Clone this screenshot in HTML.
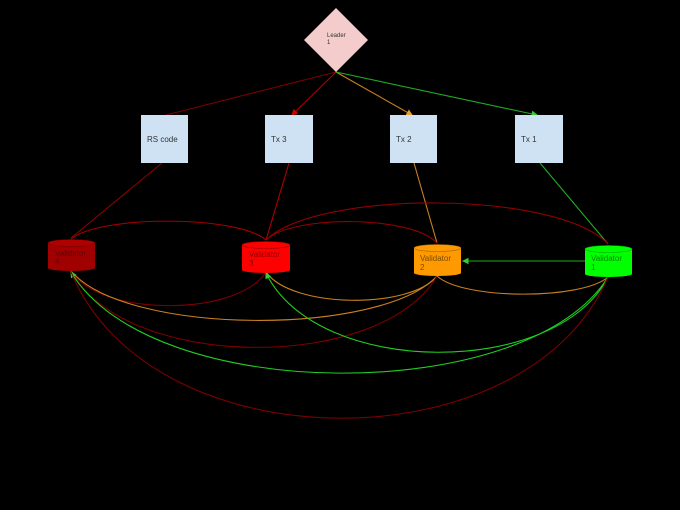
<!DOCTYPE html>
<html><head><style>
html,body{margin:0;padding:0;background:#000;width:680px;height:510px;overflow:hidden}
svg{display:block}
text{font-family:"Liberation Sans",sans-serif}
</style></head><body>
<svg width="680" height="510" viewBox="0 0 680 510" xmlns="http://www.w3.org/2000/svg">
<rect width="680" height="510" fill="#000"/>
<defs>
<marker id="ar" markerWidth="6" markerHeight="6" refX="5" refY="3" orient="auto"><path d="M0,0 L6,3 L0,6z" fill="#c00"/></marker>
<marker id="ao" markerWidth="6" markerHeight="6" refX="5" refY="3" orient="auto"><path d="M0,0 L6,3 L0,6z" fill="#e8a030"/></marker>
<marker id="ag" markerWidth="6" markerHeight="6" refX="5" refY="3" orient="auto"><path d="M0,0 L6,3 L0,6z" fill="#3c3"/></marker>
</defs>
<g fill="none" stroke-width="1.1">
<line x1="336" y1="72" x2="166" y2="115" stroke="#7a0000"/>
<line x1="336" y1="72" x2="292" y2="115" stroke="#b00000" marker-end="url(#ar)"/>
<line x1="336" y1="72" x2="412" y2="115" stroke="#c88020" marker-end="url(#ao)"/>
<line x1="336" y1="72" x2="537" y2="115" stroke="#2a2" marker-end="url(#ag)"/>
<line x1="162" y1="163" x2="71" y2="238" stroke="#8a0000"/>
<line x1="289" y1="163" x2="266" y2="240" stroke="#b00000"/>
<line x1="414" y1="163" x2="437" y2="243" stroke="#c88020"/>
<line x1="540" y1="163" x2="608" y2="244" stroke="#2a2"/>
<line x1="585" y1="261" x2="463" y2="261" stroke="#2a2" marker-end="url(#ag)"/>
<path d="M71 239 C100 215 237 215 266 240" stroke="#a00000"/>
<path d="M266 240 C317 190 557 190 608 244" stroke="#900000"/>
<path d="M266 240 C292 215 411 215 437 243" stroke="#900000"/>
<path d="M266 272 C237 317 100 317 71 271" stroke="#7a0000"/>
<path d="M437 276 C411 309 292 309 266 272" stroke="#c88020"/>
<path d="M437 276 C382 336 126 336 71 271" stroke="#c88020"/>
<path d="M437 276 C382 372 126 372 71 271" stroke="#7a0000"/>
<path d="M437 276 C463 300 582 300 608 277" stroke="#c88020"/>
<path d="M608 277 C557 378 317 378 266 273" stroke="#2c2" marker-end="url(#ag)"/>
<path d="M608 277 C528 406 151 406 71 272" stroke="#2c2" marker-end="url(#ag)"/>
<path d="M608 277 C528 466 151 466 71 272" stroke="#7a0000"/>
</g>
<polygon points="336,8 368,40 336,72 304,40" fill="#f4cccc"/>
<text x="327" y="37" font-size="6" fill="#333">Leader</text>
<text x="327" y="44" font-size="6" fill="#333">1</text>
<g fill="#cfe2f3">
<rect x="141" y="115" width="47" height="48"/>
<rect x="265" y="115" width="48" height="48"/>
<rect x="390" y="115" width="47" height="48"/>
<rect x="515" y="115" width="48" height="48"/>
</g>
<g font-size="8" fill="#333">
<text x="147" y="142">RS code</text>
<text x="271" y="142">Tx 3</text>
<text x="396" y="142">Tx 2</text>
<text x="521" y="142">Tx 1</text>
</g>
<g>
<rect x="48" y="243" width="47" height="25" fill="#a00000"/>
<ellipse cx="71.5" cy="268" rx="23.5" ry="3" fill="#a00000"/>
<ellipse cx="71.5" cy="243" rx="23.5" ry="3.5" fill="#b00000" stroke="#700" stroke-width="0.6"/>
<text x="55" y="256" font-size="8" fill="#600">Validator</text>
<text x="55" y="264" font-size="8" fill="#600">4</text>
<rect x="242" y="245" width="48" height="25" fill="#f00"/>
<ellipse cx="266" cy="270" rx="24" ry="3" fill="#f00"/>
<ellipse cx="266" cy="245" rx="24" ry="3.5" fill="#f00" stroke="#900" stroke-width="0.6"/>
<text x="249" y="257" font-size="8" fill="#800">Validator</text>
<text x="249" y="266" font-size="8" fill="#800">3</text>
<rect x="414" y="248" width="47" height="25" fill="#f90"/>
<ellipse cx="437.5" cy="273" rx="23.5" ry="3" fill="#f90"/>
<ellipse cx="437.5" cy="248" rx="23.5" ry="3.5" fill="#f90" stroke="#a60" stroke-width="0.6"/>
<text x="420" y="261" font-size="8" fill="#7a4a00">Validator</text>
<text x="420" y="270" font-size="8" fill="#7a4a00">2</text>
<rect x="585" y="249" width="47" height="25" fill="#0f0"/>
<ellipse cx="608.5" cy="274" rx="23.5" ry="3" fill="#0f0"/>
<ellipse cx="608.5" cy="249" rx="23.5" ry="3.5" fill="#0f0" stroke="#0a0" stroke-width="0.6"/>
<text x="591" y="261" font-size="8" fill="#080">Validator</text>
<text x="591" y="270" font-size="8" fill="#080">1</text>
</g>
</svg>
</body></html>
